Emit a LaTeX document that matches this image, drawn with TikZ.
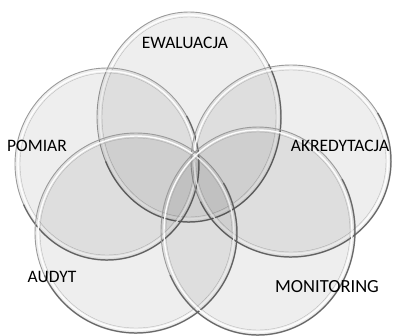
\documentclass[tikz,border=0pt]{standalone}
\usepackage{fontspec}
\setmainfont{Carlito}
\usetikzlibrary{shapes.geometric, calc}
\definecolor{rim}{HTML}{9a9a9a}
\definecolor{rimdark}{HTML}{3d3d3d}

\begin{document}
\begin{tikzpicture}[x=1pt, y=-1pt,
  every node/.style={font=\fontsize{17.5}{20}\selectfont, text=black},
  glass/.style={ellipse, draw=rim, line width=0.9pt, fill=black, fill opacity=0.065, inner sep=0pt}]
  \useasboundingbox (0,0) rectangle (403,335);

  % glass rings
  \foreach \nm/\x/\y/\rx/\ry in {ewal/189/117/92/105, pom/107/164/92/96, akr/291/161/100/96, aud/136/233/101/100, mon/258/231/97/104}{
    \node[glass, minimum width={2*\rx pt}, minimum height={2*\ry pt}] (\nm) at (\x,\y) {};
    \draw[white, line width=1.4pt, opacity=0.95] (\nm.center) ellipse [x radius={\rx pt-3pt}, y radius={\ry pt-3pt}];
    \draw[rim, line width=0.4pt, opacity=0.6] (\nm.center) ellipse [x radius={\rx pt-5pt}, y radius={\ry pt-5pt}];
    \draw[rimdark, line width=1.5pt, opacity=0.55] ($(\nm.center)+(205:\rx pt and \ry pt)$)
      arc[start angle=205, end angle=390, x radius=\rx pt, y radius=\ry pt];
  }

  % labels
  \node (ewal-txt) at (185,43) {EWALUACJA};
  \node (pom-txt) at (37,146) {POMIAR};
  \node (akr-txt) at (340,146) {AKREDYTACJA};
  \node (aud-txt) at (52,277) {AUDYT};
  \node[font=\fontsize{18.5}{22}\selectfont] (mon-txt) at (327,287) {MONITORING};
\end{tikzpicture}
\end{document}
